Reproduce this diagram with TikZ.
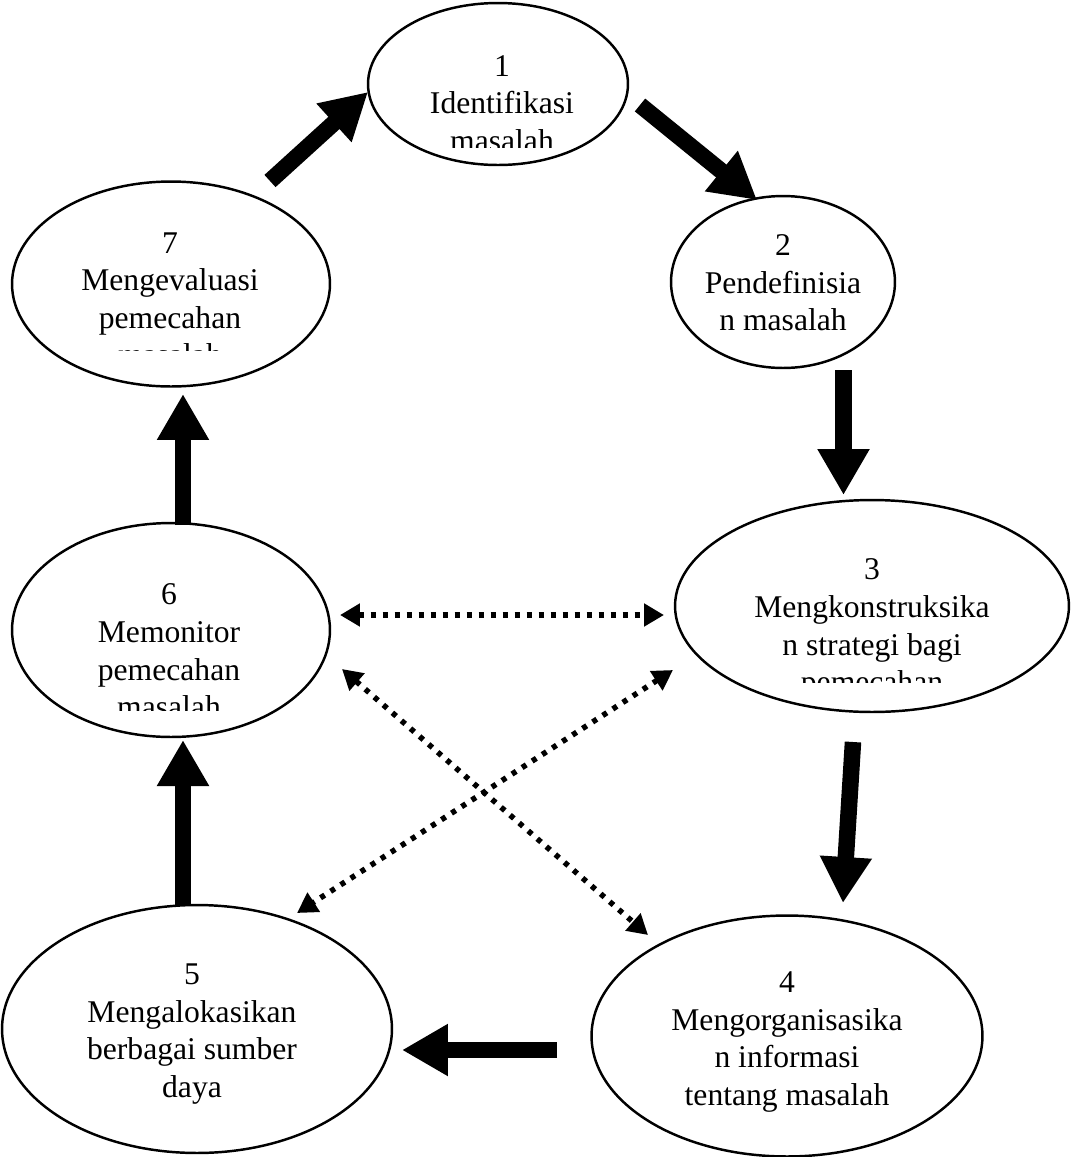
\documentclass[tikz,border=0pt]{standalone}
\usepackage{fontspec}
\setmainfont{Liberation Serif}
\usetikzlibrary{shapes.geometric,arrows.meta}

\begin{document}
\begin{tikzpicture}[x=0.02cm,y=-0.02cm,
    stage/.style={draw,ellipse,line width=1.4pt,inner sep=0pt},
    stagetext/.style={align=center,inner sep=0pt,anchor=north,font=\fontsize{18}{21.4}\selectfont},
    bigarrow/.style={line width=0.33cm,-{Triangle[width=0.98cm,length=0.92cm]}},
    dotarrow/.style={line width=0.11cm,dash pattern=on 0.1cm off 0.14cm,
        {Triangle[width=0.44cm,length=0.4cm]}-{Triangle[width=0.44cm,length=0.4cm]}}]
    \useasboundingbox (0,0) rectangle (1071,1157);

    \node[stage,minimum width=5.2cm,minimum height=3.24cm] (n1) at (498,84) {};
    \node[stage,minimum width=4.48cm,minimum height=3.44cm] (n2) at (783,282) {};
    \node[stage,minimum width=7.88cm,minimum height=4.24cm] (n3) at (872,606) {};
    \node[stage,minimum width=7.82cm,minimum height=4.82cm] (n4) at (787,1036) {};
    \node[stage,minimum width=7.8cm,minimum height=4.96cm] (n5) at (197,1029) {};
    \node[stage,minimum width=6.36cm,minimum height=4.28cm] (n6) at (171,630) {};
    \node[stage,minimum width=6.36cm,minimum height=4.1cm] (n7) at (171,284) {};

    \begin{scope}
        \clip (368,0) rectangle (628,147);
        \node[stagetext] (t1) at (502,55) {1\\Identifikasi\\masalah};
    \end{scope}
    \node[stagetext] (t2) at (783,234.5) {2\\Pendefinisia\\n masalah};
    \begin{scope}
        \clip (675,500) rectangle (1069,682);
        \node[stagetext] (t3) at (872,558.5) {3\\Mengkonstruksika\\n strategi bagi\\pemecahan};
    \end{scope}
    \node[stagetext] (t4) at (787,971.5) {4\\Mengorganisasika\\n informasi\\tentang masalah};
    \node[stagetext] (t5) at (192,963.5) {5\\Mengalokasikan\\berbagai sumber\\daya};
    \begin{scope}
        \clip (12,523) rectangle (330,710);
        \node[stagetext] (t6) at (169,583.5) {6\\Memonitor\\pemecahan\\masalah};
    \end{scope}
    \begin{scope}
        \clip (12,182) rectangle (330,350);
        \node[stagetext] (t7) at (170,232) {7\\Mengevaluasi\\pemecahan\\masalah};
    \end{scope}

    % arrow ends
    \coordinate (a71) at (270,181);  \coordinate (b71) at (368,92);
    \coordinate (a12) at (640,105);  \coordinate (b12) at (757,200);
    \coordinate (a23) at (843.5,370); \coordinate (b23) at (843.5,495);
    \coordinate (a34) at (853,742);  \coordinate (b34) at (843,903);
    \coordinate (a45) at (557,1050); \coordinate (b45) at (402,1050);
    \coordinate (a56) at (183,905);  \coordinate (b56) at (183,740);
    \coordinate (a67) at (183,525);  \coordinate (b67) at (183,394);

    \draw[bigarrow] (a71) -- (b71);
    \draw[bigarrow] (a12) -- (b12);
    \draw[bigarrow] (a23) -- (b23);
    \draw[bigarrow] (a34) -- (b34);
    \draw[bigarrow] (a45) -- (b45);
    \draw[bigarrow] (a56) -- (b56);
    \draw[bigarrow] (a67) -- (b67);

    \coordinate (d6a) at (340,615);  \coordinate (d3a) at (664,615);
    \coordinate (d6b) at (342,669);  \coordinate (d4b) at (648,935);
    \coordinate (d3c) at (673,670);  \coordinate (d5c) at (297,913);
    \draw[dotarrow] (d6a) -- (d3a);
    \draw[dotarrow] (d6b) -- (d4b);
    \draw[dotarrow] (d3c) -- (d5c);
\end{tikzpicture}
\end{document}
